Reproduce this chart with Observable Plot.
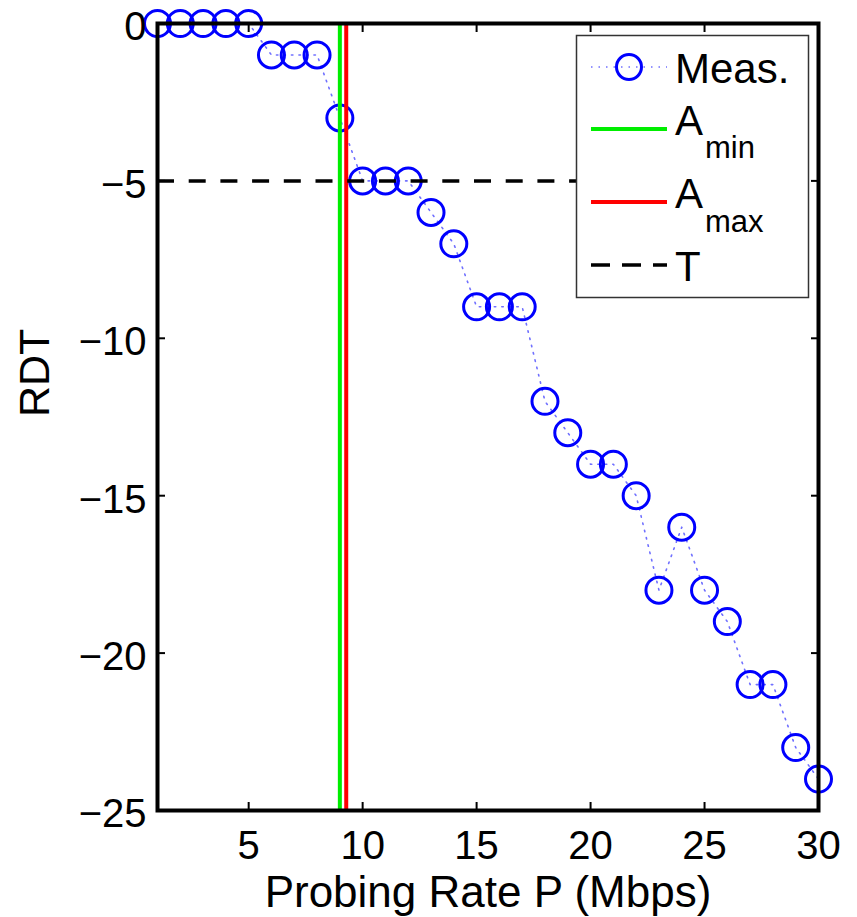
<!DOCTYPE html>
<html>
<head>
<meta charset="utf-8">
<script src="https://cdn.jsdelivr.net/npm/d3@7"></script>
<script src="https://cdn.jsdelivr.net/npm/@observablehq/plot@0.6"></script>
<style>
  html, body { margin: 0; padding: 0; background: #fff; }
  #wrap { position: relative; width: 857px; height: 917px; font-family: "Liberation Sans", Arial, Helvetica, sans-serif; }
  #legend { position: absolute; left: 0; top: 0; pointer-events: none; }
</style>
</head>
<body>
<div id="wrap"></div>
<script>
// Data
const rate = [1,2,3,4,5,6,7,8,9,10,11,12,13,14,15,16,17,18,19,20,21,22,23,24,25,26,27,28,29,30];
const rdt  = [0,0,0,0,0,-1,-1,-1,-3,-5,-5,-5,-6,-7,-9,-9,-9,-12,-13,-14,-14,-15,-18,-16,-18,-19,-21,-21,-23,-24];
const aMin = 9.0;
const aMax = 9.28;
const threshold = -5;
const xTicks = [5,10,15,20,25,30];
const yTicks = [0,-5,-10,-15,-20,-25];
const xLabel = "Probing Rate P (Mbps)";
const yLabel = "RDT";
const legendLabels = ["Meas.", "A", "min", "A", "max", "T"];

const data = rate.map((x, i) => ({x, y: rdt[i]}));
const font = "'Liberation Sans', Arial, Helvetica, sans-serif";

const chart = Plot.plot({
  width: 857,
  height: 917,
  marginLeft: 157,
  marginRight: 39,
  marginTop: 23,
  marginBottom: 107,
  style: {fontFamily: font, fontSize: "40px", color: "black", background: "white", overflow: "visible"},
  x: {domain: [1, 30]},
  y: {domain: [-25, 0]},
  marks: [
    Plot.line(data, {x: "x", y: "y", stroke: "#7070ff", strokeWidth: 1.6, strokeDasharray: "1.5,6"}),
    Plot.dot(data, {x: "x", y: "y", r: 13, stroke: "blue", strokeWidth: 3, fill: "none"}),
    Plot.ruleX([aMin], {stroke: "#00ee00", strokeWidth: 4}),
    Plot.ruleX([aMax], {stroke: "#ff0000", strokeWidth: 4}),
    Plot.ruleY([threshold], {stroke: "black", strokeWidth: 3.5, strokeDasharray: "17,14.7"}),
    Plot.axisX(xTicks, {anchor: "bottom", tickSize: 0, tickPadding: 20, fontSize: 40, label: null}),
    Plot.axisX(xTicks, {anchor: "bottom", tickSize: -8, strokeWidth: 2, tickFormat: () => "", label: null}),
    Plot.axisX(xTicks, {anchor: "top", tickSize: -8, strokeWidth: 2, tickFormat: () => "", label: null}),
    Plot.axisY(yTicks, {anchor: "left", tickSize: 0, tickPadding: 11, fontSize: 40, dy: 4, label: null, tickFormat: d => d === 0 ? "0" : "\u2212" + Math.abs(d)}),
    Plot.axisY(yTicks, {anchor: "left", tickSize: -8, strokeWidth: 2, tickFormat: () => "", label: null}),
    Plot.axisY(yTicks, {anchor: "right", tickSize: -8, strokeWidth: 2, tickFormat: () => "", label: null}),
    Plot.frame({stroke: "black", strokeWidth: 4}),
    Plot.text([xLabel], {frameAnchor: "bottom", dy: 82, lineAnchor: "middle", fontSize: 44, text: d => d}),
    Plot.text([yLabel], {frameAnchor: "left", dx: -122, rotate: -90, lineAnchor: "middle", fontSize: 43, text: d => d})
  ]
});

const wrap = document.getElementById("wrap");
wrap.appendChild(chart);

// Legend overlay (inside the axes, upper right)
const lg = d3.select(wrap).append("svg")
  .attr("id", "legend")
  .attr("width", 857).attr("height", 917)
  .attr("font-family", font);

lg.append("rect").attr("x", 576.5).attr("y", 35.5).attr("width", 232).attr("height", 262)
  .attr("fill", "white").attr("stroke", "#333").attr("stroke-width", 1.5);

// Meas.
lg.append("line").attr("x1", 591).attr("x2", 667).attr("y1", 67).attr("y2", 67)
  .attr("stroke", "#7070ff").attr("stroke-width", 1.6).attr("stroke-dasharray", "1.5,6");
lg.append("circle").attr("cx", 629).attr("cy", 67).attr("r", 12.5)
  .attr("fill", "none").attr("stroke", "blue").attr("stroke-width", 3);
lg.append("text").attr("x", 675).attr("y", 83).attr("font-size", 42).text(legendLabels[0]);

// A_min
lg.append("line").attr("x1", 591).attr("x2", 667).attr("y1", 129).attr("y2", 129)
  .attr("stroke", "#00ee00").attr("stroke-width", 4);
lg.append("text").attr("x", 675).attr("y", 135).attr("font-size", 42).text(legendLabels[1]);
lg.append("text").attr("x", 705).attr("y", 158).attr("font-size", 31).text(legendLabels[2]);

// A_max
lg.append("line").attr("x1", 591).attr("x2", 667).attr("y1", 202).attr("y2", 202)
  .attr("stroke", "#ff0000").attr("stroke-width", 4);
lg.append("text").attr("x", 675).attr("y", 208).attr("font-size", 42).text(legendLabels[3]);
lg.append("text").attr("x", 705).attr("y", 232).attr("font-size", 31).text(legendLabels[4]);

// T
lg.append("line").attr("x1", 591).attr("x2", 667).attr("y1", 265).attr("y2", 265)
  .attr("stroke", "black").attr("stroke-width", 3.5).attr("stroke-dasharray", "19,12");
lg.append("text").attr("x", 675).attr("y", 281).attr("font-size", 42).text(legendLabels[5]);
</script>
</body>
</html>
